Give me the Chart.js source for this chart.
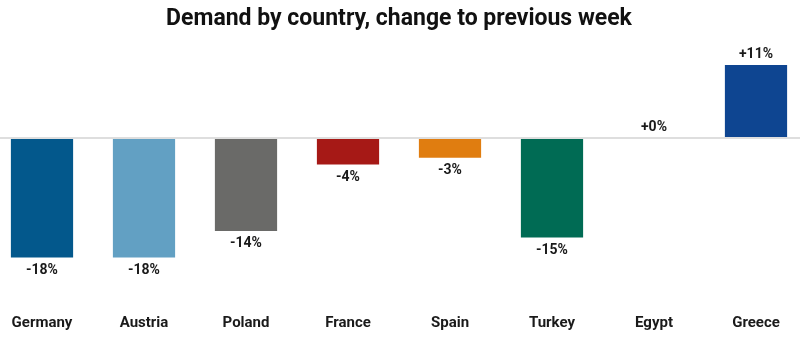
<!DOCTYPE html>
<html>
<head>
<meta charset="utf-8">
<script src="https://cdn.jsdelivr.net/npm/chart.js@4.4.0/dist/chart.umd.min.js"></script>
<style>
  html, body { margin: 0; padding: 0; background: #fff; }
  #wrap { width: 800px; height: 350px; overflow: hidden; position: relative; }
  #inner { position: absolute; left: -9px; top: 0; width: 816px; height: 350px; }
</style>
</head>
<body>
<div id="wrap"><div id="inner"><canvas id="chartDemand"></canvas></div></div>
<script>
// data
var countries = ['Germany', 'Austria', 'Poland', 'France', 'Spain', 'Turkey', 'Egypt', 'Greece']
var changes = [-18, -18, -14, -4, -3, -15, 0, 11]
var barColors = ['#03588c', '#62a0c3', '#6a6a68', '#a61916', '#e07d10', '#006b54', '#ffffff', '#0e4591']

// value labels on bars
var valueLabels = {
  id: 'valueLabels',
  afterDatasetsDraw: function (chart) {
    var ctx = chart.ctx
    var meta = chart.getDatasetMeta(0)
    ctx.save()
    ctx.font = 'bold 14px Roboto'
    ctx.fillStyle = '#1a1a1a'
    ctx.textAlign = 'center'
    ctx.textBaseline = 'middle'
    meta.data.forEach(function (bar, i) {
      var v = changes[i]
      var txt = (v >= 0 ? '+' : '') + v + '%'
      var y = v < 0 ? bar.y + 13 : bar.y - 10
      ctx.fillText(txt, bar.x, y)
    })
    ctx.restore()
  }
}

var ctx = document.getElementById('chartDemand').getContext('2d')
new Chart(ctx, {
  type: 'bar',
  data: {
    labels: countries,
    datasets: [
      {
        data: changes,
        backgroundColor: barColors,
        categoryPercentage: 0.61,
        barPercentage: 1
      }
    ]
  },
  options: {
    responsive: true,
    maintainAspectRatio: false,
    animation: false,
    layout: { padding: { left: 0, right: 0, top: 0, bottom: 8 } },
    plugins: {
      legend: { display: false },
      tooltip: { enabled: false },
      title: {
        display: true,
        text: 'Demand by country, change to previous week',
        color: '#111',
        font: { family: 'Roboto', size: 23, weight: 'bold' },
        padding: { top: 5, bottom: 19 }
      }
    },
    scales: {
      x: {
        grid: { display: false, drawTicks: false },
        border: { display: false },
        ticks: {
          color: '#1a1a1a',
          font: { family: 'Roboto', size: 15, weight: 'bold' },
          padding: 10,
          maxRotation: 0
        }
      },
      y: {
        min: -25,
        max: 13,
        ticks: { display: false, stepSize: 1 },
        border: { display: false },
        grid: {
          drawTicks: false,
          lineWidth: 2,
          color: function (c) { return c.tick && c.tick.value === 0 ? '#dedede' : 'rgba(0,0,0,0)' }
        }
      }
    }
  },
  plugins: [valueLabels]
})
</script>
</body>
</html>
